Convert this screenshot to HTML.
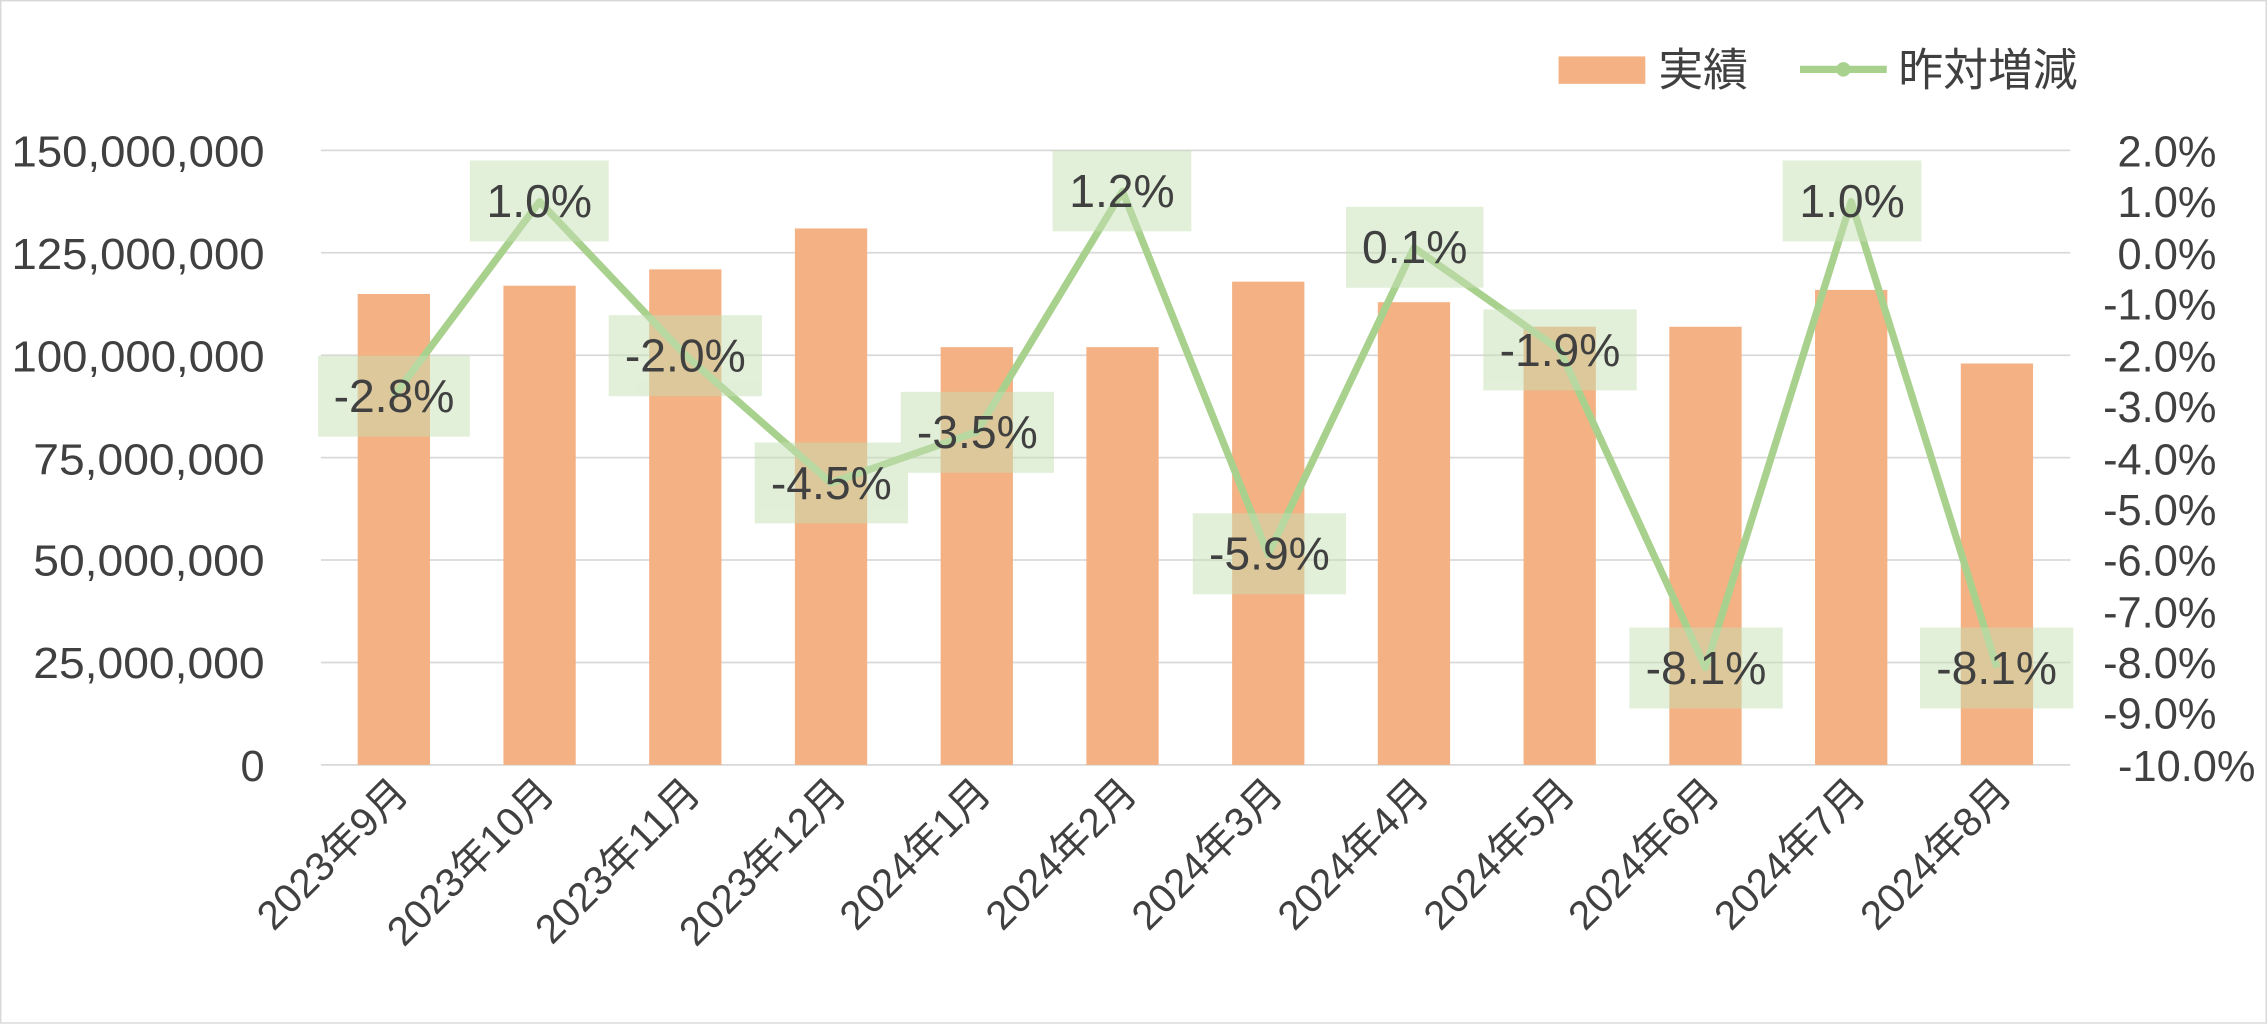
<!DOCTYPE html>
<html><head><meta charset="utf-8"><style>
html,body{margin:0;padding:0;background:#fff}
svg{display:block}
text{font-family:"Liberation Sans","Noto Sans CJK JP",sans-serif;fill:#404040}
</style></head><body>
<svg width="2267" height="1024" viewBox="0 0 1568 708.2" preserveAspectRatio="none" xmlns="http://www.w3.org/2000/svg">
<rect x="0.5" y="0.5" width="1567" height="707" fill="#fff" stroke="#d9d9d9"/>
<g stroke="#d9d9d9" stroke-width="1.2">
<line x1="222" x2="1432" y1="104" y2="104"/><line x1="222" x2="1432" y1="174.8" y2="174.8"/>
<line x1="222" x2="1432" y1="245.7" y2="245.7"/><line x1="222" x2="1432" y1="316.5" y2="316.5"/>
<line x1="222" x2="1432" y1="387.3" y2="387.3"/><line x1="222" x2="1432" y1="458.2" y2="458.2"/>
<line x1="222" x2="1432" y1="529" y2="529"/>
</g>
<g font-size="30" text-anchor="end" textLength="175">
<text x="183" y="115" textLength="175" lengthAdjust="spacingAndGlyphs">150,000,000</text><text x="183" y="186" textLength="175" lengthAdjust="spacingAndGlyphs">125,000,000</text>
<text x="183" y="257" textLength="175" lengthAdjust="spacingAndGlyphs">100,000,000</text><text x="183" y="328" textLength="160" lengthAdjust="spacingAndGlyphs">75,000,000</text>
<text x="183" y="398" textLength="160" lengthAdjust="spacingAndGlyphs">50,000,000</text><text x="183" y="469" textLength="160" lengthAdjust="spacingAndGlyphs">25,000,000</text>
<text x="183" y="540">0</text>
</g>
<g font-size="30" text-anchor="end">
<text x="1533" y="115">2.0%</text><text x="1533" y="150">1.0%</text><text x="1533" y="186">0.0%</text>
<text x="1533" y="221">-1.0%</text><text x="1533" y="257">-2.0%</text><text x="1533" y="292">-3.0%</text>
<text x="1533" y="328">-4.0%</text><text x="1533" y="363">-5.0%</text><text x="1533" y="398">-6.0%</text>
<text x="1533" y="434">-7.0%</text><text x="1533" y="469">-8.0%</text><text x="1533" y="504">-9.0%</text>
<text x="1560" y="540">-10.0%</text>
</g>
<g fill="#f4b183">
<rect x="247.4" y="203.3" width="50" height="325.7"/>
<rect x="348.2" y="197.6" width="50" height="331.4"/>
<rect x="449" y="186.3" width="50" height="342.7"/>
<rect x="549.8" y="158" width="50" height="371"/>
<rect x="650.6" y="240.1" width="50" height="288.9"/>
<rect x="751.4" y="240.1" width="50" height="288.9"/>
<rect x="852.2" y="194.8" width="50" height="334.2"/>
<rect x="953" y="209" width="50" height="320"/>
<rect x="1053.8" y="226" width="50" height="303"/>
<rect x="1154.6" y="226" width="50" height="303"/>
<rect x="1255.4" y="200.5" width="50" height="328.5"/>
<rect x="1356.2" y="251.4" width="50" height="277.6"/>
</g>
<polyline fill="none" stroke="#a9d18e" stroke-width="5" stroke-linejoin="round" points="272.4,274 373.2,139.4 474,245.6 574.8,334 675.6,298.7 776.4,132.3 877.2,383.5 978,171.3 1078.8,242 1179.6,461.7 1280.4,139.4 1381.2,461.7"/>
<g fill="#c5e0b4" opacity="0.5">
<rect x="220" y="246" width="105" height="56"/>
<rect x="325" y="111" width="96" height="56"/>
<rect x="421" y="218" width="106" height="56"/>
<rect x="522" y="306" width="106" height="56"/>
<rect x="623" y="271" width="106" height="56"/>
<rect x="728" y="104" width="96" height="56"/>
<rect x="825" y="355" width="106" height="56"/>
<rect x="931" y="143" width="95" height="56"/>
<rect x="1026" y="214" width="106" height="56"/>
<rect x="1127" y="434" width="106" height="56"/>
<rect x="1233" y="111" width="96" height="56"/>
<rect x="1328" y="434" width="106" height="56"/>
</g>
<g font-size="32" text-anchor="middle">
<text x="272.5" y="285">-2.8%</text><text x="373" y="150">1.0%</text>
<text x="474" y="257">-2.0%</text><text x="575" y="345">-4.5%</text>
<text x="676" y="310">-3.5%</text><text x="776" y="143">1.2%</text>
<text x="878" y="394">-5.9%</text><text x="978.5" y="182">0.1%</text>
<text x="1079" y="253">-1.9%</text><text x="1180" y="473">-8.1%</text>
<text x="1281" y="150">1.0%</text><text x="1381" y="473">-8.1%</text>
</g>
<g font-size="28" text-anchor="end">
<text transform="translate(284,550) rotate(-45)">2023年9月</text>
<text transform="translate(385,550) rotate(-45)">2023年10月</text>
<text transform="translate(486,550) rotate(-45)">2023年11月</text>
<text transform="translate(587,550) rotate(-45)">2023年12月</text>
<text transform="translate(687,550) rotate(-45)">2024年1月</text>
<text transform="translate(788,550) rotate(-45)">2024年2月</text>
<text transform="translate(889,550) rotate(-45)">2024年3月</text>
<text transform="translate(990,550) rotate(-45)">2024年4月</text>
<text transform="translate(1091,550) rotate(-45)">2024年5月</text>
<text transform="translate(1191,550) rotate(-45)">2024年6月</text>
<text transform="translate(1292,550) rotate(-45)">2024年7月</text>
<text transform="translate(1393,550) rotate(-45)">2024年8月</text>
</g>
<rect x="1078" y="39" width="60" height="19" fill="#f4b183"/>
<text x="1147" y="59" font-size="31">実績</text>
<line x1="1245" x2="1305" y1="48" y2="48" stroke="#a9d18e" stroke-width="5"/>
<circle cx="1275" cy="48" r="5" fill="#a9d18e"/>
<text x="1313" y="59" font-size="31">昨対増減</text>
</svg>
</body></html>
